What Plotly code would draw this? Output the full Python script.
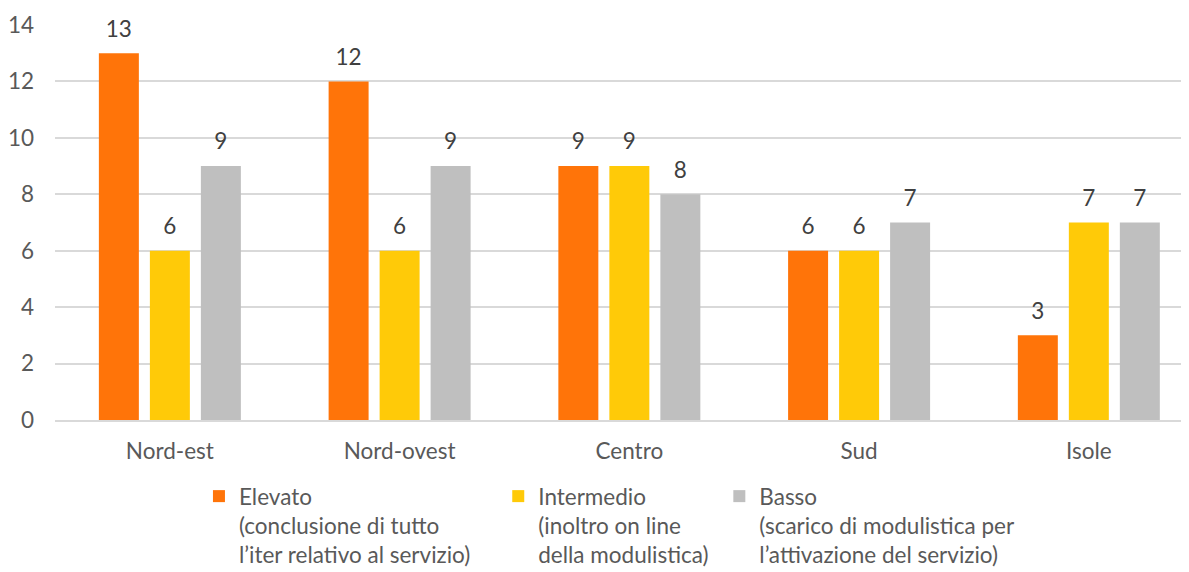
import plotly.graph_objects as go

categories = ["Nord-est", "Nord-ovest", "Centro", "Sud", "Isole"]
elevato = [13, 12, 9, 6, 3]
intermedio = [6, 6, 9, 6, 7]
basso = [9, 9, 8, 7, 7]
series_names = [
    "Elevato<br>(conclusione di tutto<br>l’iter relativo al servizio)&nbsp;&nbsp;&nbsp;&nbsp;",
    "Intermedio<br>(inoltro on line<br>della modulistica)&nbsp;",
    "Basso<br>(scarico di modulistica per<br>l’attivazione del servizio)",
]
colors = ["#FF7409", "#FFCA08", "#BFBFBF"]
groups = ["g1", "g2", "g3"]

font_family = "Lato, Open Sans, sans-serif"
fs = 22.5

fig = go.Figure()
for name, vals, col, g in zip(series_names, [elevato, intermedio, basso], colors, groups):
    fig.add_trace(go.Bar(
        x=categories, y=vals, name=name, offsetgroup=g,
        marker=dict(color=col, line=dict(width=0)),
    ))
for vals, g in zip([elevato, intermedio, basso], groups):
    fig.add_trace(go.Scatter(
        x=categories, y=vals, offsetgroup=g, mode="markers+text",
        marker=dict(size=16, opacity=0), text=vals, textposition="top center",
        textfont=dict(size=fs, color="#404040", family=font_family),
        showlegend=False, hoverinfo="skip", cliponaxis=False,
    ))

fig.update_layout(
    width=1189, height=572,
    margin=dict(l=47, r=8, t=17, b=160),
    paper_bgcolor="white", plot_bgcolor="white",
    barmode="group", bargap=0.334, bargroupgap=0.216,
    scattermode="group", scattergap=0.334,
    font=dict(family=font_family, size=fs, color="#595959"),
    xaxis=dict(showgrid=False, showline=True, linecolor="#D9D9D9", linewidth=1.5,
               ticks="", automargin=False, ticklabelstandoff=10,
               range=[-0.5, 4.436],
               tickfont=dict(size=fs, color="#595959")),
    yaxis=dict(range=[0, 14], dtick=2, showgrid=True, gridcolor="#D9D9D9", gridwidth=1.5,
               zeroline=False, showline=False, ticks="", ticklabelstandoff=20,
               automargin=False, tickfont=dict(size=fs, color="#595959")),
    legend=dict(orientation="h", x=0.1606, xref="container", xanchor="left",
                y=1 - 467 / 572, yref="container", yanchor="top",
                valign="top", font=dict(size=fs, color="#595959"),
                itemwidth=30, tracegroupgap=0, traceorder="normal"),
    showlegend=True,
)

fig.write_html("out.html")
